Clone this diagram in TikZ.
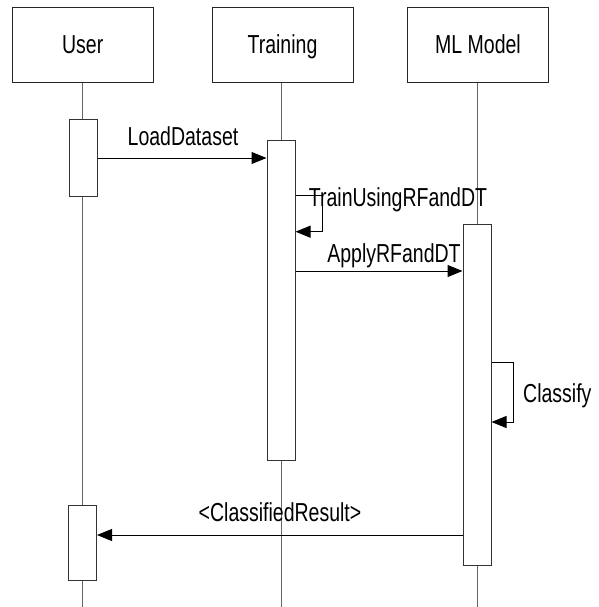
\documentclass[tikz,border=0pt]{standalone}
\usepackage{fontspec}
\setmainfont{Liberation Sans}[FakeStretch=0.75]
\usetikzlibrary{arrows.meta}
\begin{document}
\begin{tikzpicture}[x=1pt,y=1pt,
  font=\fontsize{26}{30}\selectfont,
  header/.style={draw=black!85,line width=1pt,fill=white,minimum width=141pt,minimum height=75pt,inner sep=0pt},
  actbox/.style={draw=black!80,line width=1pt,fill=white,minimum width=28pt,inner sep=0pt},
  life/.style={draw=black!60,line width=1pt},
  msg/.style={draw=black,line width=1pt,-{Triangle[length=15pt,width=12pt]}},
  lbl/.style={anchor=base,inner sep=0pt}]
\useasboundingbox (0,0) rectangle (598,-607);
% headers
\node[header] (user) at (82.7,-44.6) {};
\node[header] (train) at (282.5,-44.6) {};
\node[header] (ml) at (478,-44.6) {};
\node[lbl] (userT) at (82.7,-53.3) {User};
\node[lbl] (trainT) at (282.5,-53.3) {Training};
\node[lbl] (mlT) at (478,-53.3) {ML Model};
% lifeline ends
\coordinate (userE) at (82.7,-607);
\coordinate (trainE) at (281,-607);
\coordinate (mlE) at (477.5,-607);
\draw[life] (user.south) -- (user.south |- userE);
\draw[life] (train.south -| trainE) -- (trainE);
\draw[life] (ml.south -| mlE) -- (mlE);
% activations
\node[actbox,minimum height=76pt] (ua1) at (83,-158) {};
\node[actbox,minimum height=320pt] (ta) at (281,-300) {};
\node[actbox,minimum height=341pt] (ma) at (477,-394.5) {};
\node[actbox,minimum height=75pt] (ua2) at (82.5,-542.5) {};
% message levels
\coordinate (y1) at (0,-158);
\coordinate (y2a) at (0,-195.7);
\coordinate (y2b) at (0,-231.7);
\coordinate (y3) at (0,-271);
\coordinate (y4a) at (0,-362);
\coordinate (y4b) at (0,-422);
\coordinate (y5) at (0,-535);
\coordinate (loop1) at (322.7,0);
\coordinate (loop2) at (513,0);
% messages
\draw[msg] (ua1.east |- y1) -- (ta.west |- y1);
\node[lbl] (m1) at (183,-145) {LoadDataset};
\draw[msg] (ta.east |- y2a) -- (loop1 |- y2a) -- (loop1 |- y2b) -- (ta.east |- y2b);
\node[lbl] (m2) at (398,-206) {TrainUsingRFandDT};
\draw[msg] (ta.east |- y3) -- (ma.west |- y3);
\node[lbl] (m3) at (394,-262.7) {ApplyRFandDT};
\draw[msg] (ma.east |- y4a) -- (loop2 |- y4a) -- (loop2 |- y4b) -- (ma.east |- y4b);
\node[lbl,anchor=base west] (m4) at (523,-402) {Classify};
\draw[msg] (ma.west |- y5) -- (ua2.east |- y5);
\node[lbl] (m5) at (280,-521.7) {<ClassifiedResult>};
\end{tikzpicture}
\end{document}
